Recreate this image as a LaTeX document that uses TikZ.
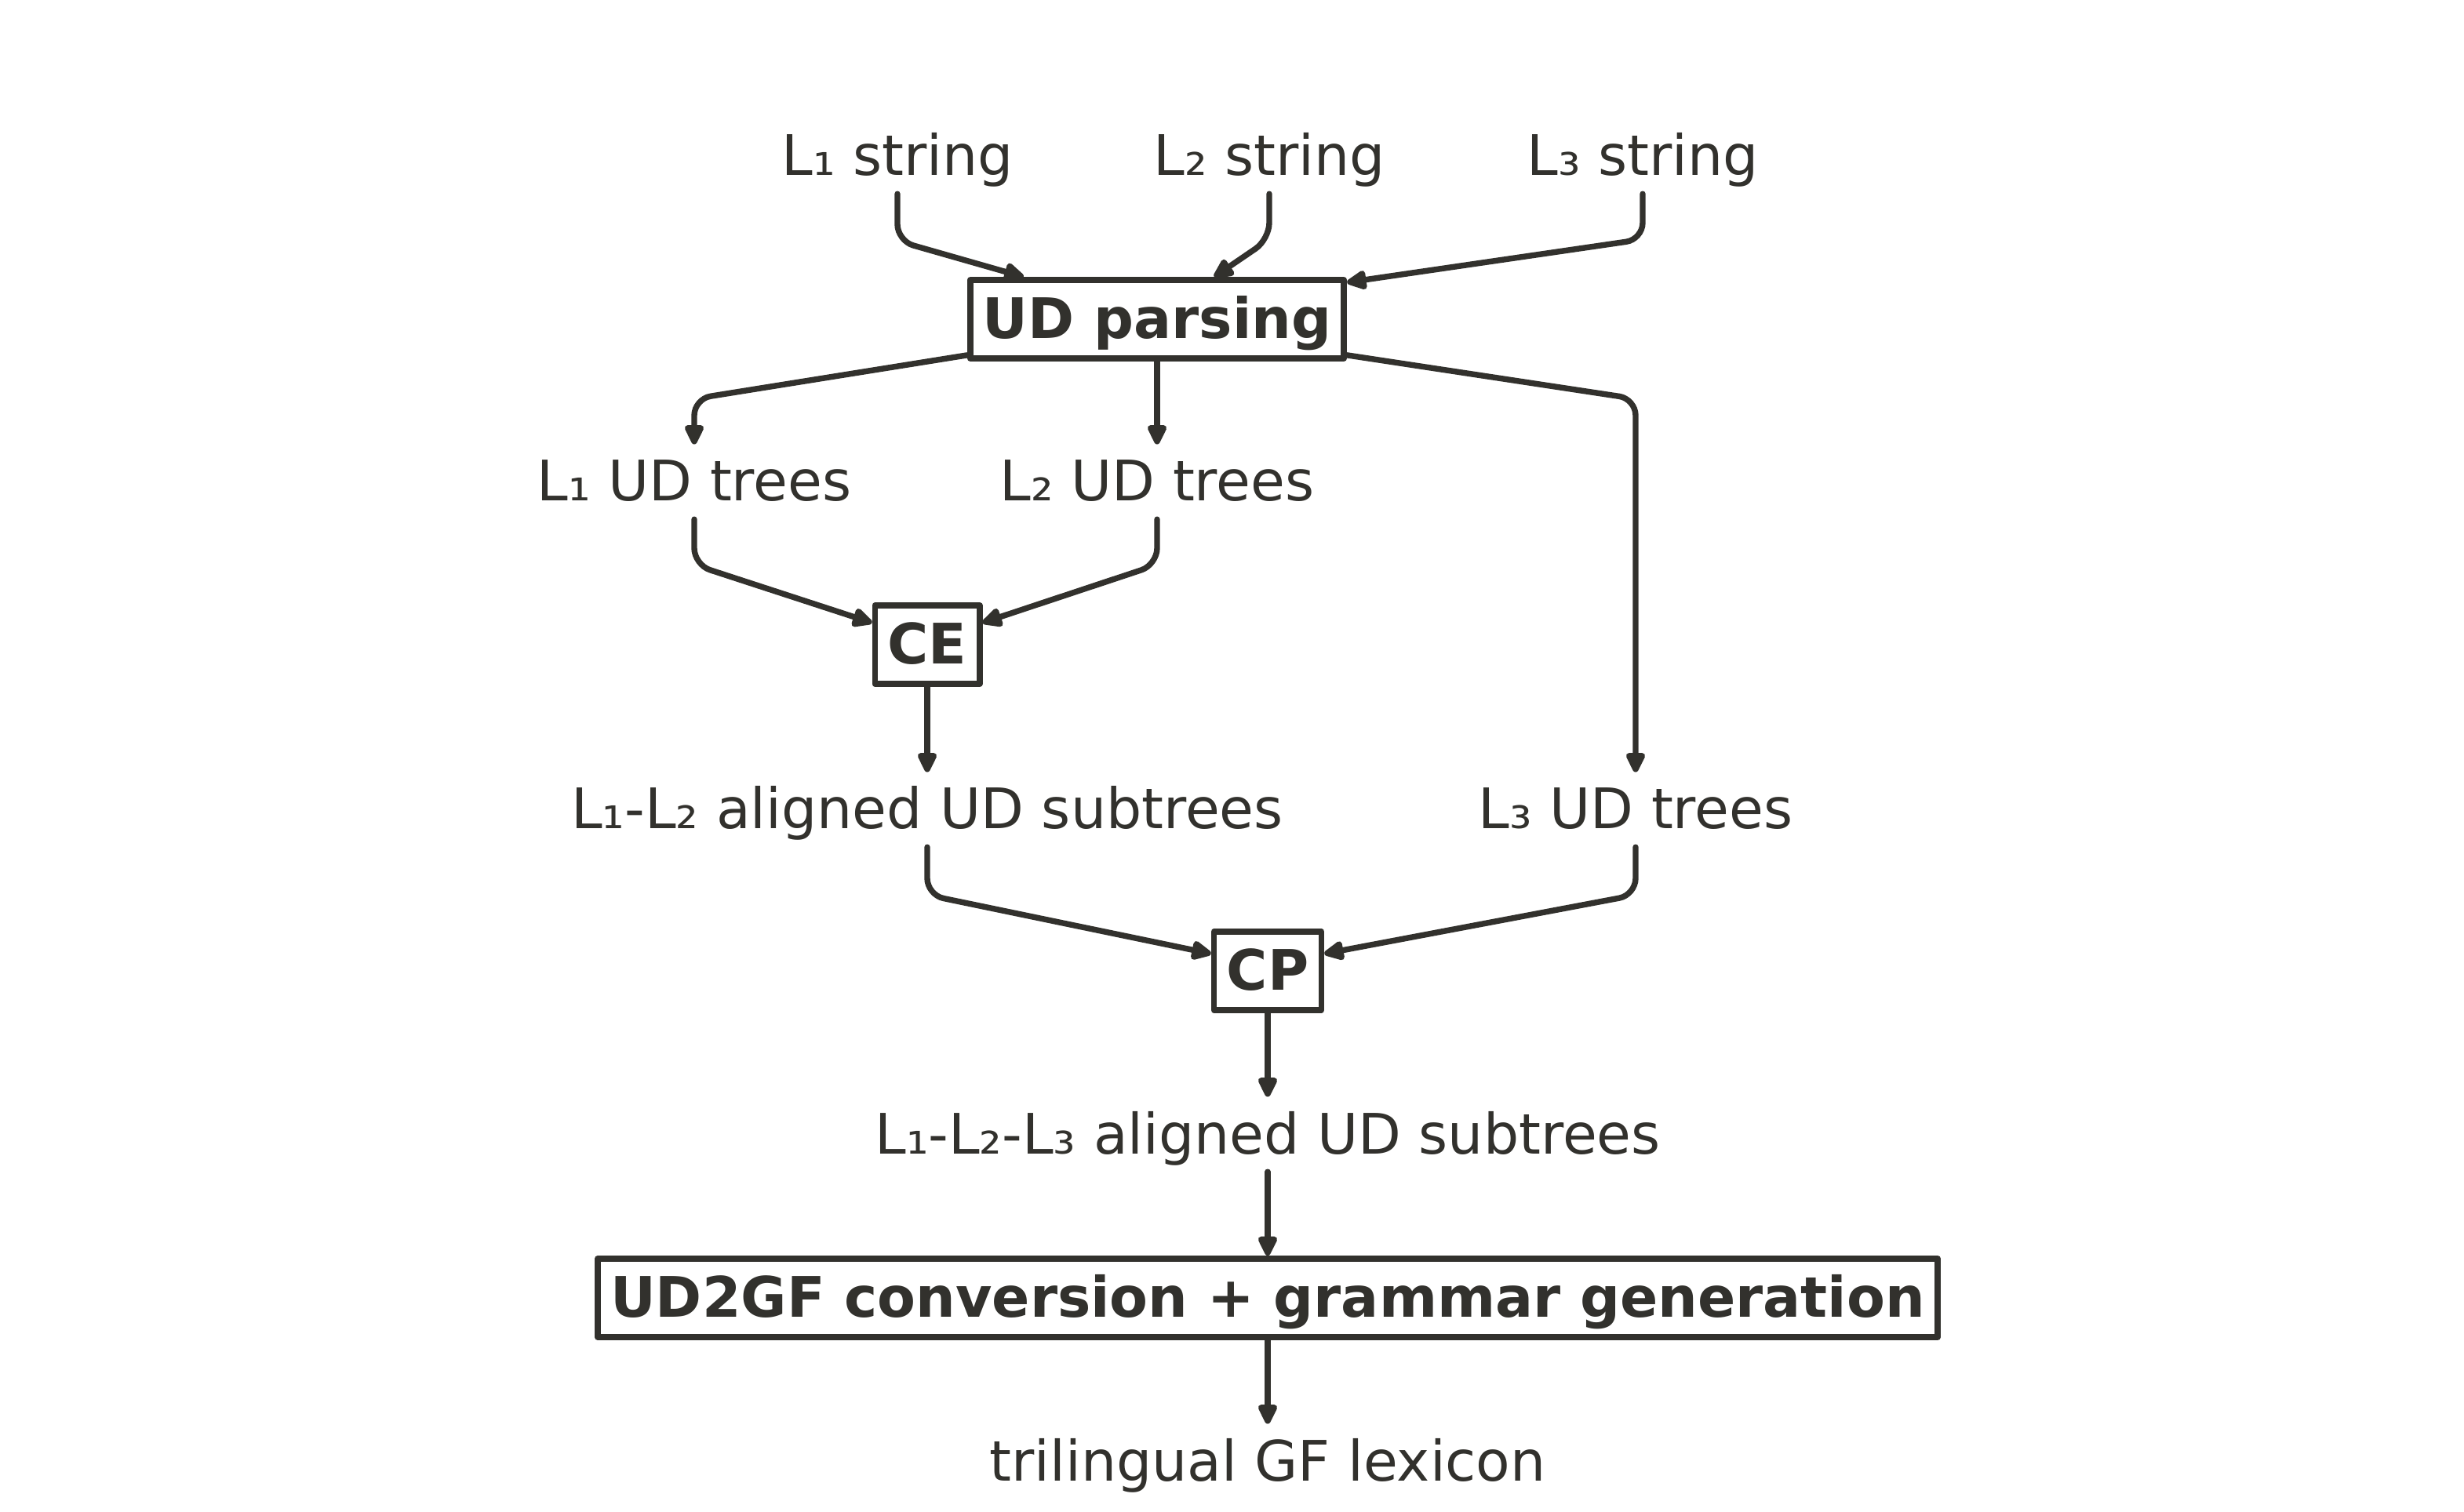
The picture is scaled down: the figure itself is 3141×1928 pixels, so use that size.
\documentclass[tikz,border=0pt]{standalone}
\usepackage{fontspec}
\setmainfont{DejaVu Sans}
\usetikzlibrary{arrows.meta,calc}
\definecolor{ink}{RGB}{50,49,45}
\begin{document}
\begin{tikzpicture}[x=0.01cm,y=-0.01cm,
  every node/.style={font=\fontsize{20.25}{24}\selectfont, text=ink},
  lbl/.style={inner ysep=3.4pt, inner xsep=0pt, text height=17pt, text depth=3pt, anchor=base},
  procbox/.style={draw=ink, line width=2.2pt, line join=round, inner xsep=4.6pt, inner ysep=0pt,
    minimum height=1cm, text height=15pt, text depth=1pt,
    font=\fontsize{20.25}{24}\selectfont\bfseries, anchor=center},
  edge/.style={draw=ink, line width=2.1pt, rounded corners=6pt, line cap=round,
    -{Triangle[length=8.5pt,width=7.5pt,round]}}]
\fill[white] (0,0) rectangle (3141,1928);
\useasboundingbox (0,0) rectangle (3141,1928);

% text nodes
\node[lbl] (s1) at (1144,224) {L₁ string};
\node[lbl] (s2) at (1618,224) {L₂ string};
\node[lbl] (s3) at (2094,224) {L₃ string};
\node[procbox] (ud) at (1475,407) {UD parsing};
\node[lbl] (t1) at (885,639) {L₁ UD trees};
\node[lbl] (t2) at (1475,639) {L₂ UD trees};
\node[procbox] (ce) at (1182,822) {CE};
\node[lbl] (a12) at (1182,1057) {L₁-L₂ aligned UD subtrees};
\node[lbl] (t3) at (2085,1057) {L₃ UD trees};
\node[procbox] (cp) at (1616,1238) {CP};
\node[lbl] (a123) at (1616,1471) {L₁-L₂-L₃ aligned UD subtrees};
\node[procbox] (ug) at (1616,1655) {UD2GF conversion + grammar generation};
\node[lbl] (tri) at (1616,1888) {trilingual GF lexicon};

% connectors
\draw[edge] (s1.south) -- ++(0,60) -- ($(ud.north west)+(72,0)$);
\draw[edge] (s2.south) -- ++(0,58) -- ($(ud.north west)+(315,0)$);
\draw[edge] (s3.south) -- ++(0,58) -- ($(ud.north east)+(0,7)$);
\draw[edge] ($(ud.south west)+(0,-8)$) -- ($(t1.north)+(0,-58)$) -- (t1.north);
\draw[edge] (ud.south) -- (t2.north);
\draw[edge] ($(ud.south east)+(0,-8)$) -- ($(t3.north|-t1.north)+(0,-58)$) -- (t3.north);
\draw[edge] (t1.south) -- ++(0,58) -- ($(ce.north west)+(0,26)$);
\draw[edge] (t2.south) -- ++(0,58) -- ($(ce.north east)+(0,26)$);
\draw[edge] (ce.south) -- (a12.north);
\draw[edge] (a12.south) -- ++(0,61) -- ($(cp.north west)+(0,32)$);
\draw[edge] (t3.south) -- ++(0,61) -- ($(cp.north east)+(0,32)$);
\draw[edge] (cp.south) -- (a123.north);
\draw[edge] (a123.south) -- (ug.north);
\draw[edge] (ug.south) -- (tri.north);
\end{tikzpicture}
\end{document}
